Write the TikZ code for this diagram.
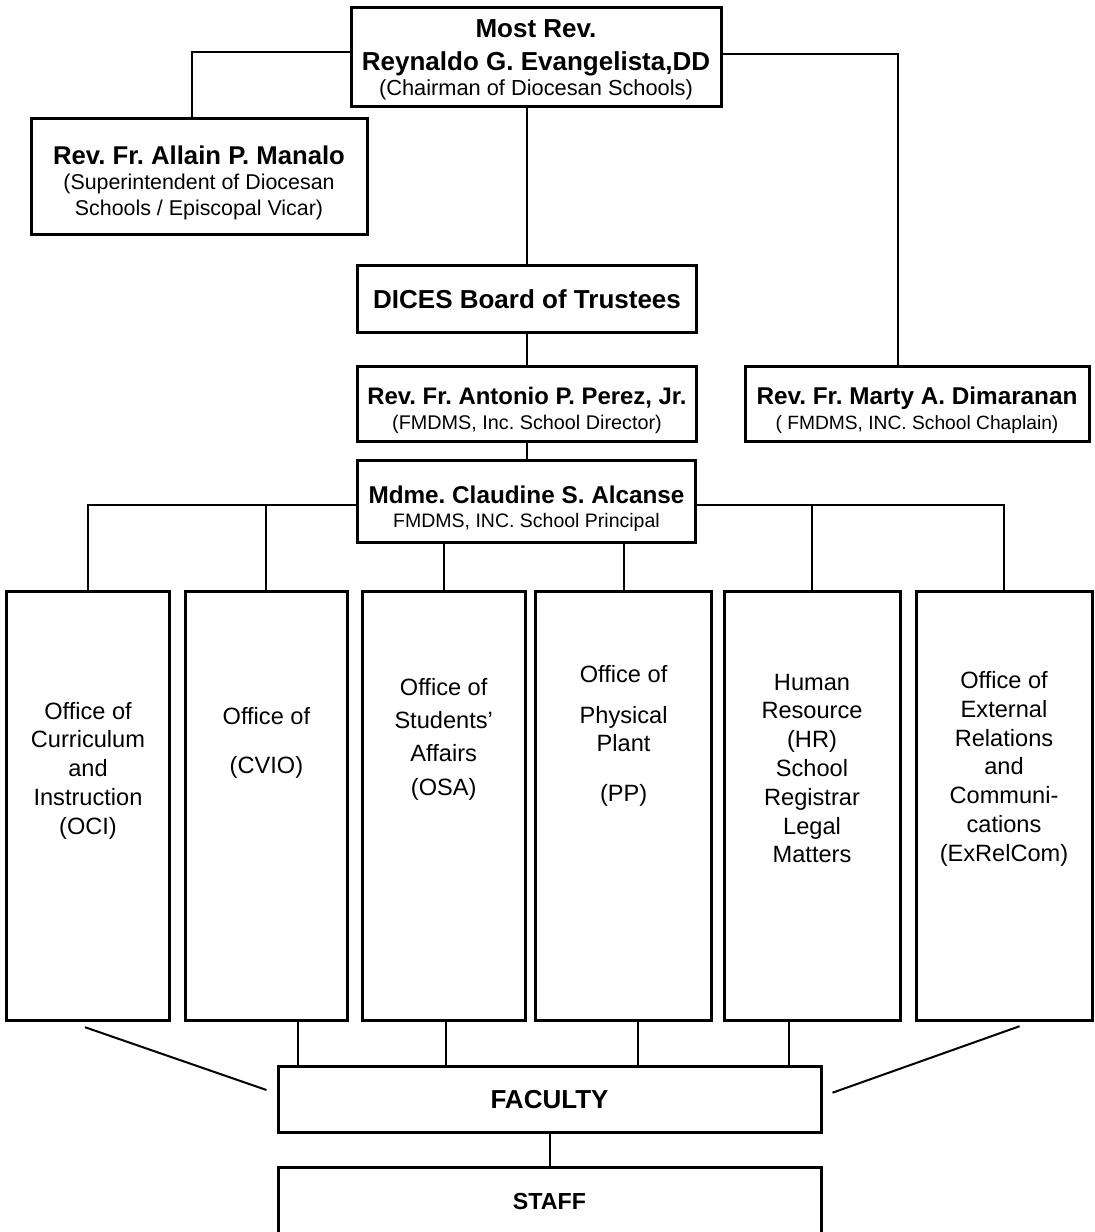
\documentclass[tikz,border=0pt]{standalone}
\usepackage{fontspec}
\setmainfont{Liberation Sans}
\usepackage{tikz}
\usetikzlibrary{calc}
\frenchspacing

\tikzset{
  orgbox/.style={draw, line width=1.5pt, inner sep=0pt, align=center,
    font=\fontsize{10.7}{12.5}\selectfont},
  officebox/.style={draw, line width=1.5pt, inner sep=0pt,
    minimum height=214.5pt},
  officetxt/.style={inner sep=0pt, align=center,
    font=\fontsize{11.8}{14.4}\selectfont},
  link/.style={line width=1pt}
}
% name line and title line, each with its own size
\newcommand{\who}[2][12.7]{{\bfseries\fontsize{#1}{#1}\selectfont #2}}
\newcommand{\subline}[2][10.7]{{\fontsize{#1}{#1}\selectfont #2}}

\begin{document}
\begin{tikzpicture}[x=0.5pt, y=-0.5pt]
                    \useasboundingbox (0,0) rectangle (1095,1232);
                    \clip (0,0) rectangle (1095,1232);

                    % Top of the chart
                    \node[orgbox, minimum width=185pt, minimum height=49.5pt] (chair) at (536,56.5)
                      {\rule{0pt}{12.4pt}\who[13]{Most Rev.}\\[4.15pt]\who[13]{Reynaldo G. Evangelista,DD}\\
                       \subline[10.9]{(Chairman of Diocesan Schools)}};
                    \node[orgbox, minimum width=168pt, minimum height=58pt] (manalo) at (199,176)
                      {\rule{0pt}{16.2pt}\who[12.85]{Rev. Fr. Allain P. Manalo}\\[-0.2pt]
                       \subline[10.7]{(Superintendent of Diocesan}\\[0.5pt]\subline[10.7]{Schools / Episcopal Vicar)}};
                    \node[orgbox, minimum width=169.75pt, minimum height=33.3pt] (board) at (527,299)
                      {\who[13]{DICES Board of Trustees}};
                    \node[orgbox, minimum width=169.75pt, minimum height=37.5pt] (perez) at (527,404.2)
                      {\rule{0pt}{14.5pt}\who[11.95]{Rev. Fr. Antonio P. Perez, Jr.}\\
                       \subline[9.9]{(FMDMS, Inc. School Director)}};
                    \node[orgbox, minimum width=172pt, minimum height=37.5pt] (dim) at (917,404.2)
                      {\rule{0pt}{14.4pt}\who[12.15]{Rev. Fr. Marty A. Dimaranan}\\
                       \subline[9.6]{( FMDMS, INC. School Chaplain)}};
                    \node[orgbox, minimum width=169pt, minimum height=40.8pt] (alc) at (526.5,501.5)
                      {\rule{0pt}{16pt}\who[12.15]{Mdme. Claudine S. Alcanse}\\[-0.5pt]
                       \subline[9.75]{FMDMS, INC. School Principal}};

                    % The offices
                    \foreach \n/\x/\w in {o1/88/81.7, o2/266.4/81.4, o3/443.7/81.3,
                                          o4/623.6/88, o5/812/88, o6/1004/88}
                      \node[officebox, minimum width=\w pt] (\n) at (\x,806.2) {};
                    \node[officetxt] (o1t) at (88,770.6) {Office of\\Curriculum\\and\\Instruction\\(OCI)};
                    \node[officetxt] (o2t) at (266.4,742.8) {Office of\\[10pt](CVIO)};
                    \node[officetxt] (o3t) at (443.7,739) {Office of\\[2.3pt]Students'\\[2.3pt]Affairs\\[2.3pt](OSA)};
                    \node[officetxt] (o4t) at (623.6,735.8) {Office of\\[6pt]Physical\\Plant\\[10.5pt](PP)};
                    \node[officetxt] (o5t) at (812,768.5) {Human\\Resource\\(HR)\\School\\Registrar\\Legal\\Matters};
                    \node[officetxt] (o6t) at (1004,768.8) {Office of\\External\\Relations\\and\\Communi-\\cations\\(ExRelCom)};

                    % Bottom of the chart
                    \node[orgbox, minimum width=271.5pt, minimum height=32.8pt] (fac) at (549.5,1099.5)
                      {\who[13]{FACULTY}};
                    \node[orgbox, minimum width=271.5pt, minimum height=34pt] (staff) at (549.5,1201.7)
                      {\who[11.6]{STAFF}};

                    % Lines from the chairman
                    \coordinate (chL) at ([yshift=2.25pt]chair.west);
                    \coordinate (chR) at ([yshift=1.25pt]chair.east);
                    \coordinate (manT) at ([xshift=-3.5pt]manalo.north);
                    \coordinate (dimT) at ([xshift=-9.5pt]dim.north);
                    \draw[link] (chL) -| (manT);
                    \draw[link] (chR) -| (dimT);
                    \draw[link] (board.north) -- (board.north |- chair.south);
                    \draw[link] (perez.north) -- (perez.north |- board.south);
                    \draw[link] (alc.north) -- (alc.north |- perez.south);

                    % Lines from the principal
                    \coordinate (busL) at ([yshift=-1.75pt]alc.west);
                    \coordinate (busR) at ([yshift=-1.75pt]alc.east);
                    \draw[link] (o1.north) |- (busL);
                    \draw[link] (o2.north) -- (o2.north |- busL);
                    \draw[link] (o3.north) -- (o3.north |- alc.south);
                    \draw[link] (o4.north) -- (o4.north |- alc.south);
                    \draw[link] (o5.north) -- (o5.north |- busR);
                    \draw[link] (o6.north) |- (busR);

                    % Lines down to the faculty
                    \coordinate (f2) at ([xshift=-125.75pt]fac.north);
                    \coordinate (f3) at ([xshift=-52pt]fac.north);
                    \coordinate (f4) at ([xshift=44pt]fac.north);
                    \coordinate (f5) at ([xshift=119.75pt]fac.north);
                    \draw[link] (f2) -- (f2 |- o2.south);
                    \draw[link] (f3) -- (f3 |- o3.south);
                    \draw[link] (f4) -- (f4 |- o4.south);
                    \draw[link] (f5) -- (f5 |- o5.south);
                    \coordinate (dl1) at ([xshift=-1.5pt, yshift=-2.5pt]o1.south);
                    \coordinate (dl2) at ([xshift=-5pt, yshift=4.75pt]fac.west);
                    \coordinate (dr1) at ([xshift=7.8pt, yshift=-2pt]o6.south);
                    \coordinate (dr2) at ([xshift=5pt, yshift=3.4pt]fac.east);
                    \draw[link] (dl1) -- (dl2);
                    \draw[link] (dr1) -- (dr2);
                    \draw[link] (staff.north) -- (staff.north |- fac.south);
                \end{tikzpicture}
\end{document}
